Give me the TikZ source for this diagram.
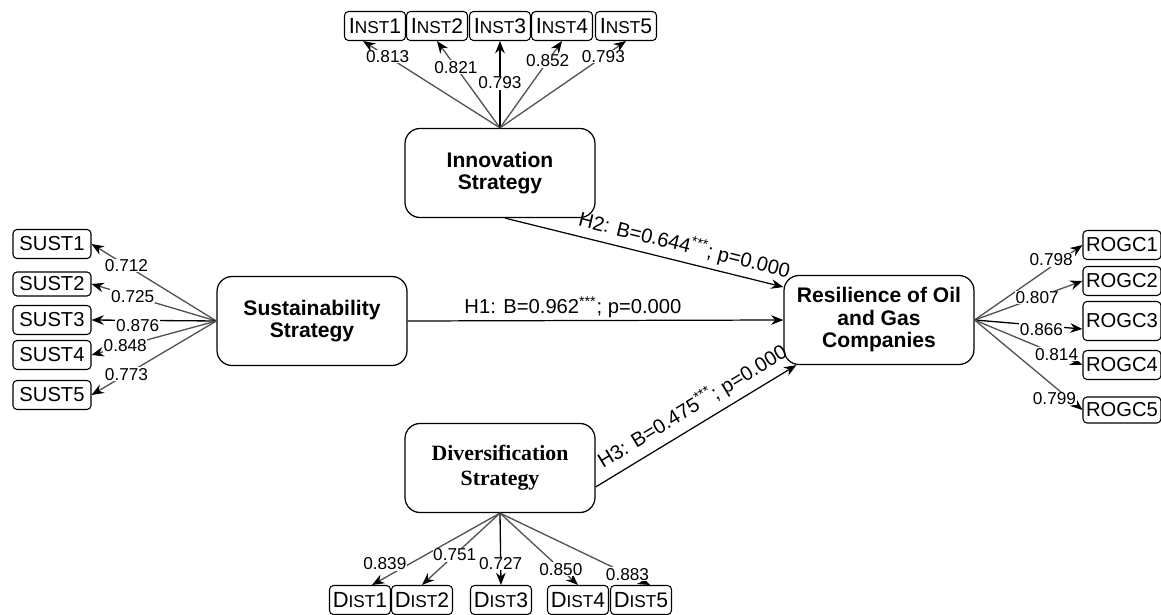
\documentclass[tikz,border=0pt]{standalone}
\usepackage{fontspec}
\setmainfont{Liberation Sans}
\newfontfamily\timesbf{Liberation Serif}
\usetikzlibrary{arrows.meta}

% fake small caps for the item names
\newcommand{\smcp}[3]{{\fontsize{12.5}{13}\selectfont #1}{\fontsize{9.8}{11}\selectfont #2}{\fontsize{12}{13}\selectfont #3}}

\begin{document}
\begin{tikzpicture}[x = 0.02cm, y = -0.02cm,
    construct/.style = {draw, rounded corners = 0.3cm, minimum width = 3.8cm, minimum height = 1.78cm,
        align = center, line width = 0.7pt, font = \fontsize{12}{12.8}\selectfont\bfseries},
    item/.style = {draw, rounded corners = 0.08cm, minimum width = 1.22cm, minimum height = 0.58cm,
        inner sep = 1pt, line width = 0.6pt, font = \fontsize{11.5}{13}\selectfont},
    wide/.style = {item, minimum width = 1.56cm},
    loading/.style = {draw = black!68, line width = 0.75pt, -{Stealth[length = 7pt, width = 5.5pt, black]}},
    lbl/.style = {fill = white, inner sep = 0.4pt, font = \fontsize{9.8}{11}\selectfont},
    hyp/.style = {line width = 0.7pt, -{Stealth[length = 7pt, width = 5.5pt]}},
    hlbl/.style = {inner sep = 1pt, font = \fontsize{11.5}{13}\selectfont}]
    \useasboundingbox (0,0) rectangle (1161,615);

    % constructs
    \node[construct] (inno) at (500,173) {Innovation\\Strategy};
    \node[construct] (sust) at (312,321) {Sustainability\\Strategy};
    \node[construct] (res) at (879,320) {Resilience of Oil\\and Gas\\Companies};
    \node[construct, font = \fontsize{12.4}{14}\selectfont\timesbf\bfseries] (div) at (500,468) {Diversification\\Strategy};

    % indicators
    \node[item] (inst1) at (375,26) {\smcp{I}{NST}{1}};
    \node[item] (inst2) at (437,26) {\smcp{I}{NST}{2}};
    \node[item] (inst3) at (500,26) {\smcp{I}{NST}{3}};
    \node[item] (inst4) at (562,26) {\smcp{I}{NST}{4}};
    \node[item] (inst5) at (626,26) {\smcp{I}{NST}{5}};

    \node[wide] (sust1) at (52,244) {SUST1};
    \node[wide, minimum height = 0.48cm] (sust2) at (52,284) {SUST2};
    \node[wide] (sust3) at (52,320) {SUST3};
    \node[wide] (sust4) at (52,355) {SUST4};
    \node[wide] (sust5) at (52,395) {SUST5};

    \node[wide] (rogc1) at (1122,245) {ROGC1};
    \node[wide] (rogc2) at (1122,281) {ROGC2};
    \node[wide, minimum height = 0.78cm] (rogc3) at (1122,321) {ROGC3};
    \node[wide] (rogc4) at (1122,365) {ROGC4};
    \node[wide, minimum height = 0.52cm] (rogc5) at (1122,410) {ROGC5};

    \node[item] (dist1) at (360,600) {\smcp{D}{IST}{1}};
    \node[item] (dist2) at (422,600) {\smcp{D}{IST}{2}};
    \node[item] (dist3) at (501,600) {\smcp{D}{IST}{3}};
    \node[item] (dist4) at (578,600) {\smcp{D}{IST}{4}};
    \node[item] (dist5) at (641,600) {\smcp{D}{IST}{5}};

    % loadings
    \draw[loading] (inno.north) -- node[lbl, pos = 0.82] {0.813} ([xshift = -0.24cm]inst1.south);
    \draw[loading] (inno.north) -- node[lbl, pos = 0.70] {0.821} (inst2.south);
    \draw[loading, draw = black] (inno.north) -- node[lbl, pos = 0.52] {0.793} (inst3.south);
    \draw[loading] (inno.north) -- node[lbl, pos = 0.77] {0.852} (inst4.south);
    \draw[loading] (inno.north) -- node[lbl, pos = 0.82] {0.793} (inst5.south);

    \draw[loading] (sust.west) -- node[lbl, pos = 0.72] {0.712} (sust1.east);
    \draw[loading] (sust.west) -- node[lbl, pos = 0.67] {0.725} (sust2.east);
    \draw[loading, draw = black] (sust.west) -- node[lbl, pos = 0.63, yshift = -0.1cm] {0.876} (sust3.east);
    \draw[loading] (sust.west) -- node[lbl, pos = 0.73] {0.848} (sust4.east);
    \draw[loading] (sust.west) -- node[lbl, pos = 0.72] {0.773} (sust5.east);

    \draw[loading] (res.east) -- node[lbl, pos = 0.71, yshift = 0.14cm] {0.798} (rogc1.west);
    \draw[loading] (res.east) -- node[lbl, pos = 0.58] {0.807} (rogc2.west);
    \draw[loading, draw = black] (res.east) -- node[lbl, pos = 0.62, yshift = -0.08cm] {0.866} ([yshift = -0.16cm]rogc3.west);
    \draw[loading] (res.east) -- node[lbl, pos = 0.76] {0.814} (rogc4.west);
    \draw[loading] (res.east) -- node[lbl, pos = 0.74, yshift = -0.24cm] {0.799} (rogc5.west);

    \draw[loading] (div.south) -- node[lbl, pos = 0.9, yshift = 0.28cm] {0.839} ([xshift = 0.24cm]dist1.north);
    \draw[loading] (div.south) -- node[lbl, pos = 0.58] {0.751} (dist2.north);
    \draw[loading, draw = black] (div.south) -- node[lbl, pos = 0.70] {0.727} (dist3.north);
    \draw[loading] (div.south) -- node[lbl, pos = 0.78] {0.850} (dist4.north);
    \draw[loading] (div.south) -- node[lbl, pos = 0.85] {0.883} ([xshift = 0.18cm]dist5.north);

    % structural paths
    \draw[hyp] (sust.east) -- node[hlbl, above, pos = 0.44] {H1: B=0.962\textsuperscript{***}; p=0.000} (res.west);
    \draw[hyp] ([xshift = 0.1cm]inno.south) -- node[hlbl, above = 2pt, sloped, pos = 0.63] {H2: B=0.644\textsuperscript{***}; p=0.000} ([yshift = 0.66cm]res.west);
    \draw[hyp] ([yshift = -0.38cm]div.east) -- node[hlbl, above = 3pt, sloped, pos = 0.53] {H3: B=0.475\textsuperscript{***}; p=0.000} ([xshift = 0.26cm]res.south west);
\end{tikzpicture}
\end{document}
